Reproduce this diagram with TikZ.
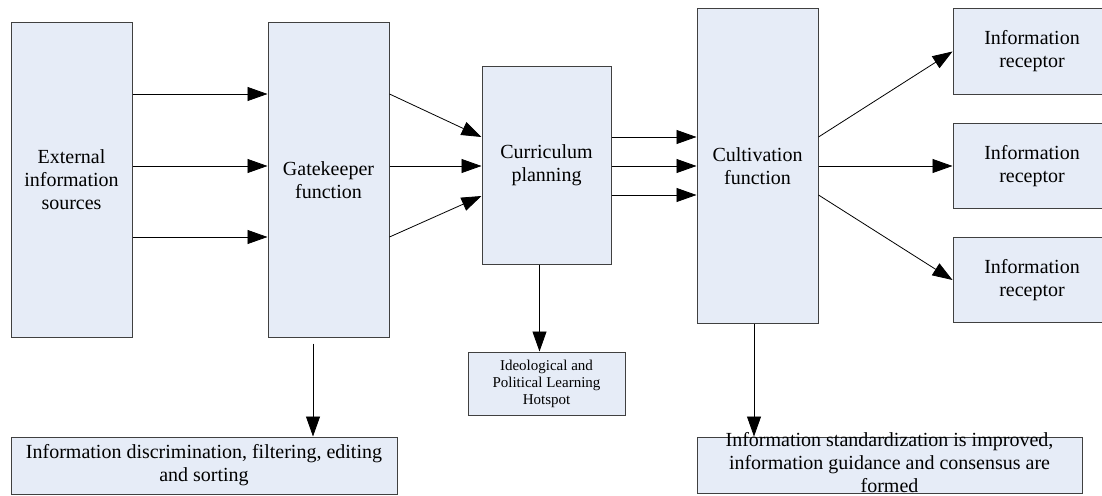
\documentclass[tikz,border=0pt]{standalone}
\usepackage{fontspec}
\setmainfont{Liberation Serif}
\usetikzlibrary{arrows.meta,calc}
\definecolor{boxfill}{HTML}{E6ECF7}
\definecolor{boxline}{HTML}{404040}
\tikzset{
  box/.style={draw=boxline, fill=boxfill, line width=1pt, inner sep=2pt, align=center,
              font=\fontsize{20}{23}\selectfont, anchor=center},
  tallbox/.style={box, minimum width=121pt, minimum height=314pt},
  recbox/.style={box, minimum width=158pt, minimum height=85pt},
  arr/.style={draw=black, line width=0.8pt, -{Triangle[length=20pt,width=14pt]}},
}
\begin{document}
\begin{tikzpicture}[x=1pt,y=-1pt]
\clip (0,0) rectangle (1102,495);
\fill[white] (0,0) rectangle (1102,495);

\node[tallbox] (A) at (71.5,180) {External\\information\\sources};
\node[tallbox] (B) at (328.5,180) {Gatekeeper\\function};
\node[box, minimum width=129pt, minimum height=198pt] (C) at (546.5,165) {Curriculum\\planning};
\node[tallbox] (D) at (757.5,166) {Cultivation\\function};
\node[recbox] (R1) at (1032,51.5) {Information\\receptor};
\node[recbox] (R2) at (1032,166) {Information\\receptor};
\node[recbox] (R3) at (1032,280) {Information\\receptor};
\node[box, minimum width=157pt, minimum height=63pt, font=\fontsize{15}{17}\selectfont] (H) at (546.5,383.5)
  {Ideological and\\Political Learning\\Hotspot};
\node[box, minimum width=386pt, minimum height=57pt] (F) at (204,465.5)
  {Information discrimination, filtering, editing\\and sorting};
\node[box, minimum width=385pt, minimum height=56pt, inner sep=0pt] (S) at (889.5,465)
  {\smash{\raisebox{-5pt}{\setlength{\tabcolsep}{0pt}\begin{tabular}{c}Information standardization is improved,\\information guidance and consensus are\\formed\end{tabular}}}};

% A -> B
\draw[arr] ([yshift=86pt]A.east) -- ([yshift=86pt]B.west);
\draw[arr] ([yshift=14pt]A.east) -- ([yshift=14pt]B.west);
\draw[arr] ([yshift=-57pt]A.east) -- ([yshift=-57pt]B.west);
% B -> C
\draw[arr] ([yshift=86pt]B.east) -- ([yshift=28pt]C.west);
\draw[arr] ([yshift=14pt]B.east) -- ([yshift=-1pt]C.west);
\draw[arr] ([yshift=-57pt]B.east) -- ([yshift=-31pt]C.west);
% C -> D
\draw[arr] ([yshift=28pt]C.east) -- ([yshift=28pt]C.east -| D.west);
\draw[arr] ([yshift=-1pt]C.east) -- ([yshift=-1pt]C.east -| D.west);
\draw[arr] ([yshift=-30pt]C.east) -- ([yshift=-30pt]C.east -| D.west);
% D -> R
\draw[arr] ([yshift=29pt]D.east) -- (R1.west);
\draw[arr] (D.east) -- (D.east -| R2.west);
\draw[arr] ([yshift=-29pt]D.east) -- (R3.west);
% downward
\draw[arr] ([xshift=-15.5pt,yshift=-6pt]B.south) -- ([xshift=-15.5pt]B.south |- F.north);
\draw[arr] ([xshift=-7pt]C.south) -- ([xshift=-7pt]C.south |- H.north);
\draw[arr] ([xshift=-3.5pt]D.south) -- ([xshift=-3.5pt]D.south |- S.north);
\end{tikzpicture}
\end{document}
